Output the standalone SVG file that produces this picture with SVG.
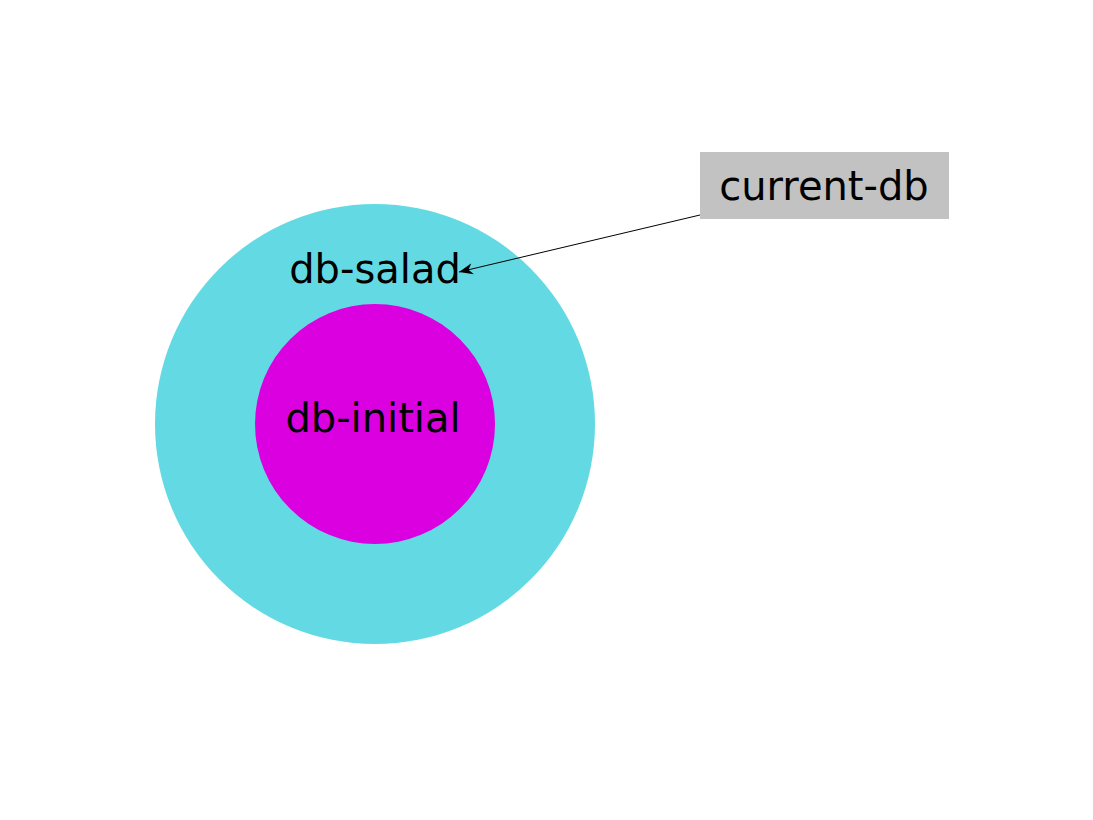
<svg xmlns="http://www.w3.org/2000/svg" width="1093" height="820" viewBox="0 0 1093 820">
<style>
text{font-family:"DejaVu Sans",sans-serif;font-size:40px;fill:#000;text-anchor:middle}
</style>
<defs>
<marker id="ah" viewBox="0 0 10 10" refX="10" refY="5" markerWidth="14" markerHeight="14" markerUnits="userSpaceOnUse" orient="auto">
<path d="M0,1 L10,5 L0,9 L3,5 Z" fill="#000"/>
</marker>
</defs>
<rect width="1093" height="820" fill="#fff"/>
<g id="db-salad">
<circle cx="375" cy="424" r="220" fill="#63dae3"/>
<text x="375" y="283">db-salad</text>
</g>
<g id="db-initial">
<circle cx="375" cy="424" r="120" fill="#db00df"/>
<text x="373" y="432">db-initial</text>
</g>
<g id="current-db">
<rect x="700" y="152" width="249" height="67" fill="#c2c2c2"/>
<text x="824" y="200">current-db</text>
</g>
<g id="connectors">
<line x1="700" y1="215" x2="459" y2="272" stroke="#000" stroke-width="1" marker-end="url(#ah)"/>
</g>
</svg>
